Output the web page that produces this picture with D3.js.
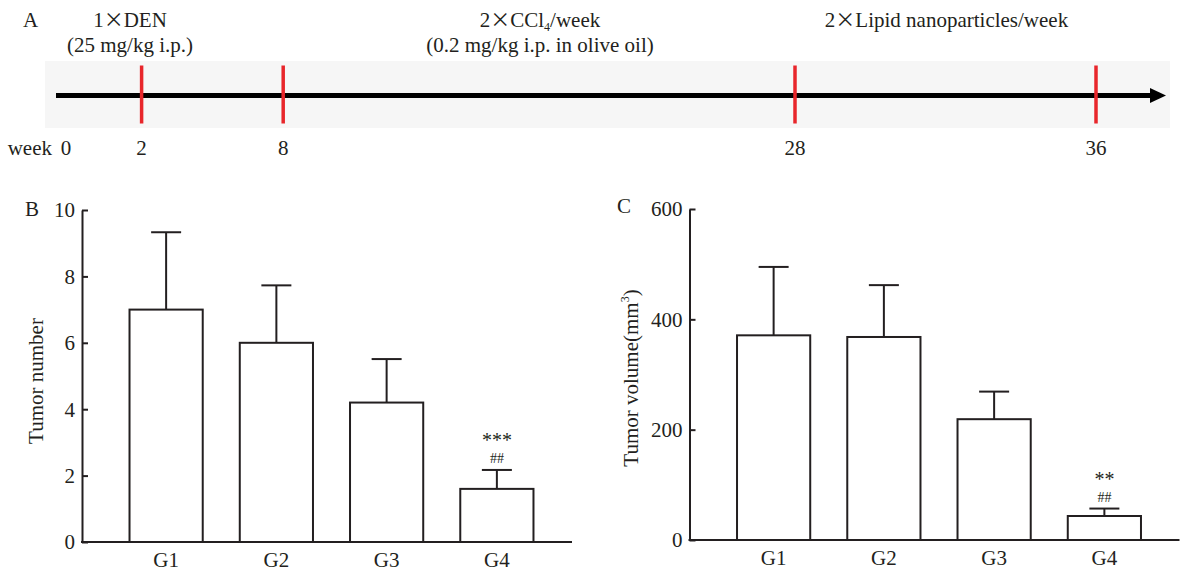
<!DOCTYPE html>
<html><head><meta charset="utf-8">
<script src="https://cdn.jsdelivr.net/npm/d3@7"></script>
<style>
body{margin:0;background:#fff}
svg{display:block}
text{font-family:"Liberation Serif","Times New Roman",serif;fill:#231f20}
</style>
</head><body>
<svg id="c" width="1185" height="572"></svg>
<script>
// ---------- data ----------
const groups = ["G1", "G2", "G3", "G4"];
const tumorNumber = [7.0, 6.0, 4.2, 1.6];
const tumorNumberErr = [2.33, 1.73, 1.31, 0.57];
const tumorVolume = [371, 368, 219, 43.5];
const tumorVolumeErr = [124, 94, 50, 13.5];
const numberTicks = [0, 2, 4, 6, 8, 10];
const volumeTicks = [0, 200, 400, 600];
const numberStars = ["", "", "", "***"];
const numberHashes = ["", "", "", "##"];
const volumeStars = ["", "", "", "**"];
const volumeHashes = ["", "", "", "##"];
const timelineWeeks = [0, 2, 8, 28, 36];
const markerWeeks = [2, 8, 28, 36];
const treatments = [
  {n: "1", rest: "DEN", line2: "(25 mg/kg i.p.)"},
  {n: "2", rest: "CCl", sub: "4", after: "/week", line2: "(0.2 mg/kg i.p. in olive oil)"},
  {n: "2", rest: "Lipid nanoparticles/week", line2: ""}
];

const ink = "#231f20";
const svg = d3.select("#c");

// ---------- panel A : timeline ----------
const tx = d3.scaleLinear().domain(timelineWeeks).range([66, 141.6, 283.2, 795, 1096]);
svg.append("rect").attr("x", 45).attr("y", 61).attr("width", 1125).attr("height", 67).attr("fill", "#f6f6f6");
svg.append("line").attr("x1", 56).attr("x2", 1153).attr("y1", 95.5).attr("y2", 95.5)
  .attr("stroke", "#000").attr("stroke-width", 5);
svg.append("path").attr("d", "M1150,88 L1166,95.5 L1150,103 Z").attr("fill", "#000");
svg.selectAll(".mark").data(markerWeeks).enter().append("line")
  .attr("x1", d => tx(d)).attr("x2", d => tx(d)).attr("y1", 65.5).attr("y2", 123.5)
  .attr("stroke", "#e8262b").attr("stroke-width", 3.5);
svg.append("text").attr("x", 52).attr("y", 155).attr("text-anchor", "end").attr("font-size", 21).text("week");
svg.selectAll(".wk").data(timelineWeeks).enter().append("text")
  .attr("x", d => tx(d)).attr("y", 155).attr("text-anchor", "middle").attr("font-size", 21).text(d => d);
svg.append("text").attr("x", 23).attr("y", 27).attr("font-size", 21).text("A");

const tCenters = [130, 540, 946.5];
treatments.forEach((t, i) => {
  const tt = svg.append("text").attr("x", tCenters[i]).attr("y", 27).attr("text-anchor", "middle").attr("font-size", 21);
  tt.append("tspan").text(t.n);
  tt.append("tspan").attr("font-family", "Noto Sans CJK SC").attr("font-size", 20).text("×");
  tt.append("tspan").text(t.rest);
  if (t.sub) {
    tt.append("tspan").attr("font-size", 12).attr("dy", 4).text(t.sub);
    tt.append("tspan").attr("dy", -4).text(t.after);
  }
  if (t.line2) {
    svg.append("text").attr("x", tCenters[i]).attr("y", 52).attr("text-anchor", "middle").attr("font-size", 21).text(t.line2);
  }
});

// ---------- bar panels ----------
function panel(o) {
  const g = svg.append("g");
  const y = d3.scaleLinear().domain([0, o.max]).range([o.y0, o.y1]);
  const x = d3.scaleBand().domain(groups).range([o.ax + 29, o.ax + 470]).paddingInner(0.336).paddingOuter(0.168);

  // y axis
  const ya = g.append("g").attr("transform", `translate(${o.ax},0)`)
    .call(d3.axisLeft(y).tickValues(o.ticks).tickSizeInner(-6).tickSizeOuter(0).tickPadding(7));
  ya.attr("font-family", null).attr("font-size", null);
  ya.selectAll("path,line").attr("stroke", ink).attr("stroke-width", 2);
  ya.selectAll("text").attr("font-size", 21).attr("fill", ink).attr("dy", "0.33em");

  // x axis
  g.append("line").attr("x1", o.ax - 1).attr("x2", o.ax + 490).attr("y1", y(0)).attr("y2", y(0))
    .attr("stroke", ink).attr("stroke-width", 2);
  const xa = g.append("g").attr("transform", `translate(0,${y(0)})`)
    .call(d3.axisBottom(x).tickSize(0).tickPadding(10));
  xa.attr("font-family", null).attr("font-size", null);
  xa.select(".domain").remove();
  xa.selectAll("text").attr("font-size", 21).attr("fill", ink);

  // bars
  g.selectAll(".bar").data(groups).enter().append("rect")
    .attr("x", d => x(d)).attr("width", x.bandwidth())
    .attr("y", (d, i) => y(o.vals[i])).attr("height", (d, i) => y(0) - y(o.vals[i]))
    .attr("fill", "#fff").attr("stroke", ink).attr("stroke-width", 2);
  // error bars
  const cx = d => x(d) + x.bandwidth() / 2;
  g.selectAll(".ev").data(groups).enter().append("line")
    .attr("x1", cx).attr("x2", cx)
    .attr("y1", (d, i) => y(o.vals[i])).attr("y2", (d, i) => y(o.vals[i] + o.errs[i]))
    .attr("stroke", ink).attr("stroke-width", 2);
  g.selectAll(".ec").data(groups).enter().append("line")
    .attr("x1", d => cx(d) - 15).attr("x2", d => cx(d) + 15)
    .attr("y1", (d, i) => y(o.vals[i] + o.errs[i])).attr("y2", (d, i) => y(o.vals[i] + o.errs[i]))
    .attr("stroke", ink).attr("stroke-width", 2);
  // significance
  g.selectAll(".st").data(groups).enter().append("text")
    .attr("x", cx).attr("y", (d, i) => y(o.vals[i] + o.errs[i]) - o.starOff)
    .attr("text-anchor", "middle").attr("font-size", 20).text((d, i) => o.stars[i]);
  g.selectAll(".hs").data(groups).enter().append("text")
    .attr("x", cx).attr("y", (d, i) => y(o.vals[i] + o.errs[i]) - 7)
    .attr("text-anchor", "middle").attr("font-size", 14).attr("fill", "#444").text((d, i) => o.hashes[i]);

  // labels
  svg.append("text").attr("x", o.lx).attr("y", o.ly).attr("font-size", 21).text(o.letter);
  const yt = svg.append("text").attr("transform", `translate(${o.tx},${o.ty}) rotate(-90)`)
    .attr("text-anchor", "middle").attr("font-size", 21);
  yt.append("tspan").text(o.title);
  if (o.sup) {
    yt.append("tspan").attr("font-size", 12).attr("dy", -9).text(o.sup);
    yt.append("tspan").attr("dy", 9).text(")");
  }
}

panel({ax: 82, y0: 542, y1: 210, max: 10, ticks: numberTicks, vals: tumorNumber, errs: tumorNumberErr,
  stars: numberStars, hashes: numberHashes, starOff: 23,
  letter: "B", lx: 25, ly: 216, title: "Tumor number", tx: 43, ty: 381});
panel({ax: 689.5, y0: 540, y1: 209, max: 600, ticks: volumeTicks, vals: tumorVolume, errs: tumorVolumeErr,
  stars: volumeStars, hashes: volumeHashes, starOff: 23,
  letter: "C", lx: 617, ly: 213, title: "Tumor volume(mm", sup: "3", tx: 638, ty: 378});
</script>
</body></html>
